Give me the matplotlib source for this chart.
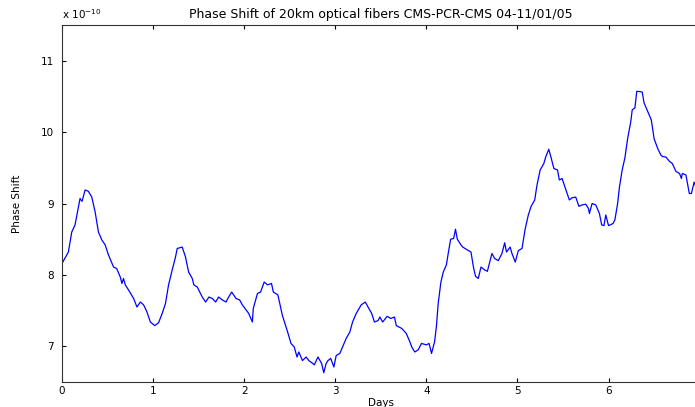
import matplotlib
matplotlib.use("Agg")
import matplotlib.pyplot as plt

## ## data (phase shift in units of 1e-10)
days = [0.00, 0.07, 0.107, 0.143, 0.198, 0.22, 0.254, 0.29, 0.327, 0.364,
        0.40, 0.437, 0.474, 0.51, 0.566, 0.60, 0.64, 0.658, 0.675, 0.695,
        0.73, 0.786, 0.823, 0.86, 0.896, 0.933, 0.97, 1.018, 1.06, 1.10,
        1.136, 1.17, 1.21, 1.246, 1.265, 1.32, 1.356, 1.39, 1.43, 1.448,
        1.485, 1.52, 1.54, 1.577, 1.613, 1.65, 1.687, 1.72, 1.76, 1.80,
        1.83, 1.863, 1.91, 1.95, 1.98, 2.02, 2.05, 2.09, 2.10, 2.146,
        2.18, 2.22, 2.257, 2.30, 2.32, 2.37, 2.42, 2.477, 2.514, 2.55,
        2.58, 2.60, 2.64, 2.68, 2.71, 2.753, 2.77, 2.81, 2.85, 2.874,
        2.90, 2.92, 2.95, 2.985, 3.01, 3.05, 3.08, 3.12, 3.16, 3.19,
        3.23, 3.285, 3.33, 3.36, 3.40, 3.43, 3.47, 3.49, 3.52, 3.57,
        3.61, 3.65, 3.67, 3.73, 3.78, 3.82, 3.84, 3.873, 3.91, 3.947,
        4.00, 4.03, 4.057, 4.09, 4.11, 4.13, 4.16, 4.186, 4.22, 4.24,
        4.267, 4.30, 4.32, 4.34, 4.38, 4.40, 4.45, 4.49, 4.517, 4.54,
        4.57, 4.60, 4.64, 4.67, 4.72, 4.75, 4.79, 4.83, 4.86, 4.88,
        4.92, 4.94, 4.976, 5.01, 5.05, 5.086, 5.12, 5.15, 5.19, 5.215,
        5.25, 5.29, 5.31, 5.344, 5.37, 5.40, 5.44, 5.46, 5.49, 5.527,
        5.57, 5.60, 5.64, 5.675, 5.71, 5.75, 5.78, 5.79, 5.82, 5.86,
        5.90, 5.925, 5.95, 5.97, 6.00, 6.05, 6.07, 6.10, 6.12, 6.15,
        6.18, 6.21, 6.245, 6.26, 6.29, 6.31, 6.33, 6.37, 6.39, 6.43,
        6.47, 6.50, 6.54, 6.574, 6.59, 6.63, 6.67, 6.70, 6.74, 6.78,
        6.80, 6.81, 6.85, 6.887, 6.91, 6.94, 6.98]
phase = [8.16, 8.32, 8.60, 8.70, 9.07, 9.03, 9.19, 9.17, 9.09, 8.88,
         8.60, 8.49, 8.42, 8.28, 8.11, 8.09, 7.97, 7.88, 7.95, 7.86,
         7.79, 7.67, 7.55, 7.62, 7.58, 7.48, 7.34, 7.29, 7.33, 7.46,
         7.60, 7.86, 8.07, 8.25, 8.37, 8.39, 8.25, 8.04, 7.95, 7.86,
         7.83, 7.74, 7.69, 7.62, 7.69, 7.67, 7.62, 7.69, 7.65, 7.62,
         7.69, 7.76, 7.67, 7.65, 7.58, 7.51, 7.46, 7.34, 7.53, 7.74,
         7.76, 7.90, 7.86, 7.88, 7.76, 7.72, 7.43, 7.20, 7.04, 6.99,
         6.85, 6.92, 6.80, 6.85, 6.80, 6.76, 6.74, 6.85, 6.76, 6.63,
         6.76, 6.80, 6.83, 6.71, 6.87, 6.90, 6.99, 7.11, 7.20, 7.34,
         7.46, 7.58, 7.62, 7.55, 7.46, 7.34, 7.36, 7.41, 7.34, 7.42,
         7.39, 7.41, 7.29, 7.25, 7.18, 7.06, 6.99, 6.92, 6.95, 7.04,
         7.02, 7.04, 6.90, 7.06, 7.27, 7.60, 7.90, 8.04, 8.14, 8.30,
         8.50, 8.51, 8.64, 8.50, 8.42, 8.39, 8.35, 8.32, 8.11, 7.98,
         7.95, 8.11, 8.07, 8.05, 8.30, 8.23, 8.20, 8.30, 8.45, 8.32,
         8.39, 8.30, 8.18, 8.34, 8.37, 8.65, 8.84, 8.96, 9.05, 9.26,
         9.47, 9.56, 9.65, 9.76, 9.64, 9.49, 9.47, 9.33, 9.35, 9.21,
         9.05, 9.08, 9.09, 8.96, 8.98, 8.99, 8.93, 8.86, 9.00, 8.98,
         8.86, 8.70, 8.69, 8.84, 8.69, 8.72, 8.77, 9.00, 9.23, 9.47,
         9.64, 9.91, 10.15, 10.31, 10.34, 10.57, 10.57, 10.56, 10.41, 10.29,
         10.17, 9.91, 9.77, 9.68, 9.66, 9.65, 9.59, 9.56, 9.45, 9.42,
         9.35, 9.42, 9.40, 9.14, 9.14, 9.30, 9.16]
xticks = [0, 1, 2, 3, 4, 5, 6]
yticks = [7, 8, 9, 10, 11]

plt.rcParams['font.family'] = ['DejaVu Sans']
plt.rcParams['font.size'] = 7.5

fig = plt.figure(figsize=(6.95, 4.07), dpi=100)
ax = fig.add_axes([62 / 695, 25 / 407, 637.6 / 695, 357 / 407])

ax.plot(days, phase, color="blue", linewidth=0.9)

ax.set_xlim(0, 7)
ax.set_ylim(6.5, 11.5)
ax.set_xticks(xticks)
ax.set_yticks(yticks)
ax.tick_params(direction="in", length=3, width=0.8, top=True, right=True,
               labelsize=7.5)
ax.tick_params(axis="y", pad=6)
ax.tick_params(axis="x", pad=3)
for s in ax.spines.values():
    s.set_linewidth(0.8)
    s.set_color("#333333")

ax.set_title("Phase Shift of 20km optical fibers CMS-PCR-CMS 04-11/01/05",
             fontsize=9, pad=5)
ax.set_xlabel("Days", fontsize=7.5, labelpad=1)
ax.set_ylabel("Phase Shift", fontsize=7.5, labelpad=13)
ax.text(0, 1.012, r"x 10$^{-10}$", transform=ax.transAxes, fontsize=7.5,
        ha="left", va="bottom")

plt.savefig("out.png", dpi=100)
